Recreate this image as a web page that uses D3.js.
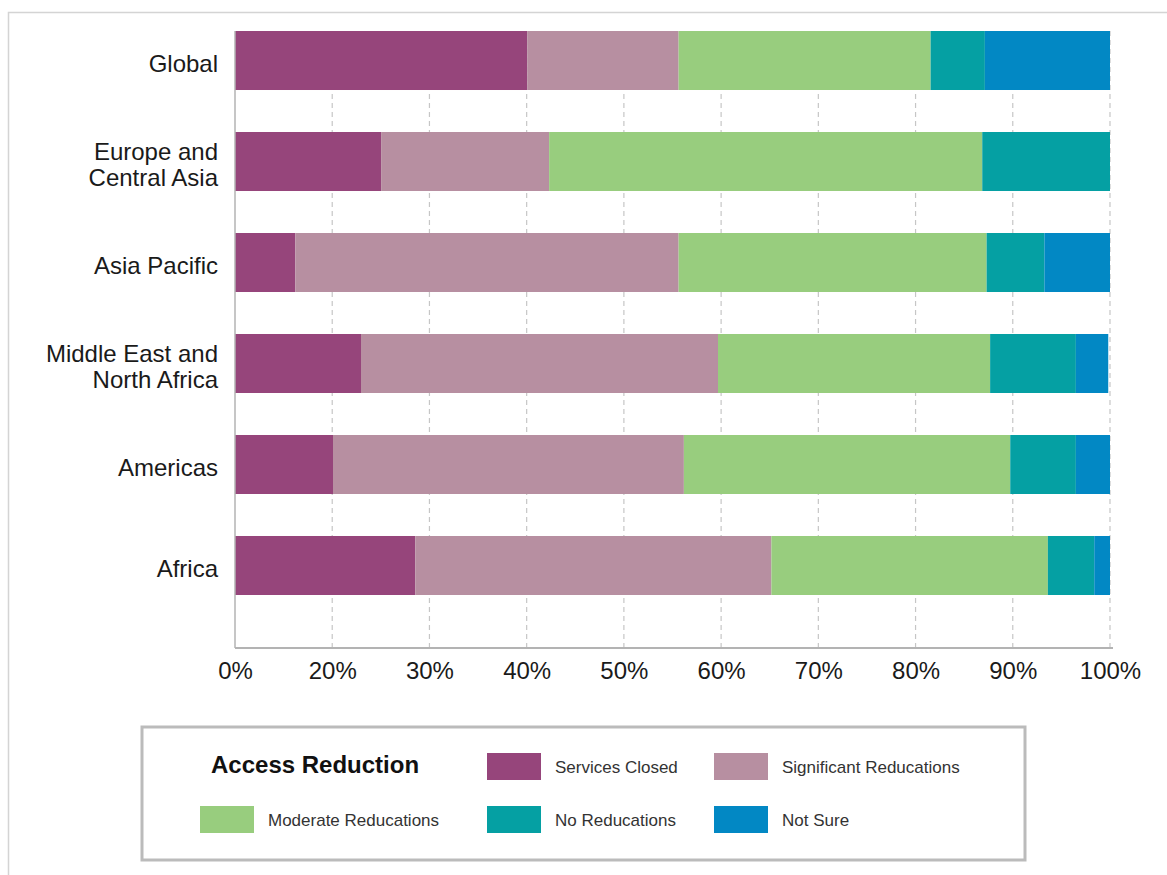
<!DOCTYPE html>
<meta charset="utf-8">
<script src="https://d3js.org/d3.v7.min.js"></script>
<style>
  body { margin: 0; background: #fff; }
  text { font-family: "Helvetica Neue", Helvetica, "Liberation Sans", Arial, sans-serif; }
</style>
<div id="chart"></div>

<script>
  // regions, top to bottom
  var regions = ["Global", "Europe and\nCentral Asia", "Asia Pacific",
    "Middle East and\nNorth Africa", "Americas", "Africa"];

  // share of answers per region
  var servicesClosed      = [33.4, 16.7,  6.9, 14.4, 11.2, 20.6];
  var significantReduced  = [17.3, 19.2, 43.8, 40.8, 40.1, 40.7];
  var moderateReduced     = [28.8, 49.5, 35.2, 31.1, 37.3, 31.6];
  var noReduction         = [ 6.2, 14.6,  6.6,  9.8,  7.5,  5.3];
  var notSure             = [14.3,  0.0,  7.5,  3.7,  3.9,  1.8];

  var seriesNames = ["Services Closed", "Significant Reducations", "Moderate Reducations",
    "No Reducations", "Not Sure"];
  var seriesColors = ["#96457b", "#b78fa1", "#98cd7e", "#05a0a3", "#0288c4"];

  // the axis labels as printed (ten evenly spaced ticks)
  var tickLabels = ["0%", "20%", "30%", "40%", "50%", "60%", "70%", "80%", "90%", "100%"];

  var W = 1167, H = 875;
  var plotLeft = 235, plotRight = 1110, plotTop = 31, plotBottom = 648;

  var svg = d3.select("#chart").append("svg")
    .attr("width", W)
    .attr("height", H);

  // outer frame (only top and left edges show)
  svg.append("path")
    .attr("d", "M8.5," + H + "V12.5H" + W)
    .attr("fill", "none")
    .attr("stroke", "#d4d4d4")
    .attr("stroke-width", 1.5);

  // build rows for the stack
  var rows = regions.map(function (r, i) {
    return {
      region: r,
      "Services Closed": servicesClosed[i],
      "Significant Reducations": significantReduced[i],
      "Moderate Reducations": moderateReduced[i],
      "No Reducations": noReduction[i],
      "Not Sure": notSure[i]
    };
  });
  var stacked = d3.stack().keys(seriesNames)(rows);

  var x = d3.scaleLinear().domain([0, 100]).range([plotLeft, plotRight]);
  var y = d3.scaleBand().domain(regions).range([plotTop, 595]).paddingInner(0.4158).paddingOuter(0);
  var color = d3.scaleOrdinal().domain(seriesNames).range(seriesColors);

  var tickVals = tickLabels.map(function (d, i) { return i * 100 / (tickLabels.length - 1); });

  // dashed gridlines
  svg.append("g")
    .selectAll("line")
    .data(tickVals.slice(1))
    .enter()
    .append("line")
    .attr("x1", function (d) { return x(d); })
    .attr("x2", function (d) { return x(d); })
    .attr("y1", plotTop)
    .attr("y2", plotBottom + 4)
    .attr("stroke", "#c6c6c6")
    .attr("stroke-width", 1.2)
    .attr("stroke-dasharray", "5,4");

  // bars
  svg.append("g")
    .selectAll("g")
    .data(stacked)
    .enter()
    .append("g")
    .attr("fill", function (d) { return color(d.key); })
    .selectAll("rect")
    .data(function (d) { return d; })
    .enter()
    .append("rect")
    .attr("x", function (d) { return x(d[0]); })
    .attr("width", function (d) { return x(d[1]) - x(d[0]); })
    .attr("y", function (d) { return y(d.data.region); })
    .attr("height", y.bandwidth());

  // axis lines
  svg.append("line")
    .attr("x1", plotLeft).attr("x2", plotLeft)
    .attr("y1", plotTop).attr("y2", plotBottom)
    .attr("stroke", "#b3b3b3").attr("stroke-width", 1.5);

  var xAxis = d3.axisBottom(x)
    .tickValues(tickVals)
    .tickFormat(function (d, i) { return tickLabels[i]; })
    .tickSize(0)
    .tickPadding(14);

  var gx = svg.append("g")
    .attr("transform", "translate(0," + plotBottom + ")")
    .call(xAxis);
  gx.select(".domain")
    .attr("d", "M" + plotLeft + ",0H" + (plotRight + 3))
    .attr("stroke", "#b3b3b3")
    .attr("stroke-width", 2);
  gx.selectAll("text")
    .style("font-size", "24px")
    .attr("fill", "#1a1a1a");

  // category labels, sitting a little below the bar centre as in the original
  var labels = svg.append("g")
    .selectAll("text")
    .data(regions)
    .enter()
    .append("text")
    .attr("text-anchor", "end")
    .attr("fill", "#1a1a1a")
    .style("font-size", "24px");

  labels.each(function (d) {
    var lines = d.split("\n");
    var cy = y(d) + y.bandwidth() / 2 + 3;
    var t = d3.select(this);
    lines.forEach(function (ln, k) {
      t.append("tspan")
        .attr("x", 218)
        .attr("y", cy + 8.5 + (k - (lines.length - 1) / 2) * 26)
        .text(ln);
    });
  });

  // legend
  var lg = svg.append("g");
  lg.append("rect")
    .attr("x", 142).attr("y", 727)
    .attr("width", 883).attr("height", 133)
    .attr("fill", "#fff")
    .attr("stroke", "#bbbbbb")
    .attr("stroke-width", 3);

  lg.append("text")
    .attr("x", 211).attr("y", 773)
    .attr("fill", "#111")
    .style("font-size", "24px")
    .style("font-weight", "bold")
    .text("Access Reduction");

  // slot 0 is taken by the title, items fill a 3 x 2 grid after it
  var colX = [200, 487, 714], rowY = [753, 806];
  var items = lg.selectAll("g.item")
    .data(seriesNames)
    .enter()
    .append("g")
    .attr("class", "item")
    .attr("transform", function (d, i) {
      var slot = i + 1;
      return "translate(" + colX[slot % 3] + "," + rowY[Math.floor(slot / 3)] + ")";
    });
  items.append("rect")
    .attr("width", 54).attr("height", 27)
    .attr("fill", function (d) { return color(d); });
  items.append("text")
    .attr("x", 68).attr("y", 20)
    .attr("fill", "#333")
    .style("font-size", "17px")
    .text(function (d) { return d; });
</script>
